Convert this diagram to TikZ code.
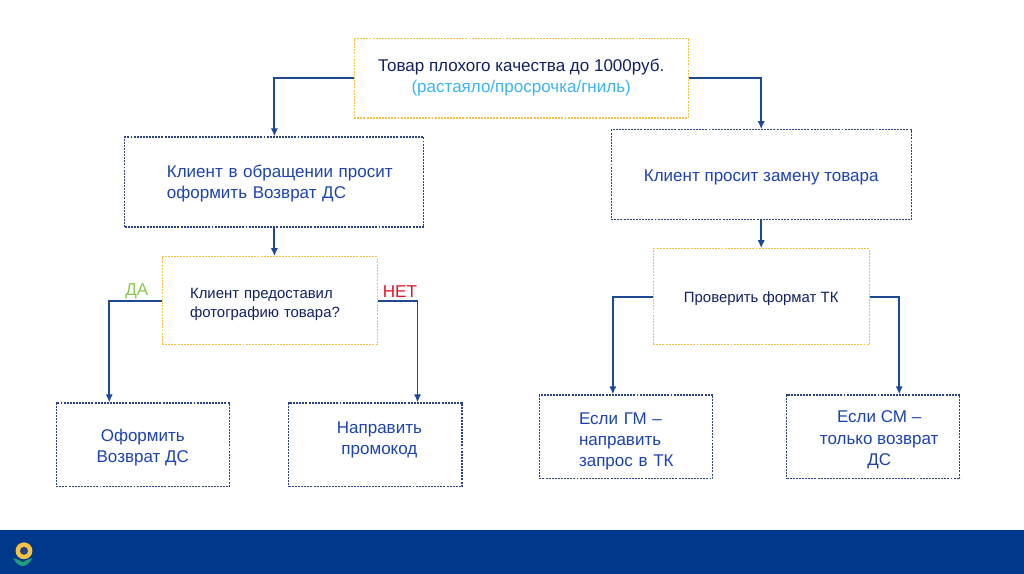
\documentclass[tikz,border=0pt]{standalone}
\usepackage{fontspec}
\setmainfont{Liberation Sans}
\usepackage{tikz}
\usetikzlibrary{arrows.meta,positioning,calc}
\usepackage{xcolor}
\definecolor{LineBlue}{RGB}{28,72,150}
\definecolor{BoxBlue}{RGB}{40,66,130}
\definecolor{TextNavy}{RGB}{16,32,96}
\definecolor{TextBlue}{RGB}{28,66,176}
\definecolor{SkyText}{RGB}{60,180,240}
\definecolor{DashYellow}{RGB}{245,194,66}
\definecolor{BarBlue}{RGB}{0,56,140}
\definecolor{YesGreen}{RGB}{140,200,80}
\definecolor{NoRed}{RGB}{225,20,35}
\definecolor{LeafGreen}{RGB}{30,160,120}

\begin{document}
\begin{tikzpicture}[
  box/.style={draw=BoxBlue,dash pattern=on 1.4pt off 0.8pt,line width=0.8pt,text=TextBlue,align=left,
              inner sep=0pt,font=\fontsize{12.1}{15}\selectfont},
  ybox/.style={box,draw=DashYellow,text=TextNavy},
  endbox/.style={box,minimum width=4.33cm,minimum height=2.09cm,align=center},
  arr/.style={-{Latex[length=2mm,width=1.8mm]},line width=1.3pt,LineBlue},
  tag/.style={font=\fontsize{12.2}{14}\selectfont},
]
\useasboundingbox (0,0) rectangle (25.6,14.35);
\fill[BarBlue] (0,0) rectangle (25.6,1.1);
\fill[LeafGreen] (0.33,0.40) .. controls (0.40,0.26) and (0.50,0.2) .. (0.57,0.2)
  .. controls (0.64,0.2) and (0.74,0.26) .. (0.81,0.40) .. controls (0.70,0.36) and (0.62,0.34) .. (0.57,0.29)
  .. controls (0.52,0.34) and (0.44,0.36) .. cycle;
\fill[DashYellow] (0.6,0.58) circle (0.21);
\fill[BoxBlue] (0.6,0.58) circle (0.1);

\node[ybox,minimum width=8.35cm,minimum height=1.98cm,align=center,text depth=0.12cm] (top) at (13.03,12.39)
  {Товар плохого качества до 1000руб.\\{\color{SkyText}(растаяло/просрочка/гниль)}};
\node[box,minimum width=7.475cm,minimum height=2.25cm,text width=5.375cm,text height=0.38cm] (refund) at (6.86,9.80)
  {\mbox{Клиент в обращении просит}\\оформить Возврат ДС};
\node[box,minimum width=7.5cm,minimum height=2.25cm,align=center,text height=0.4cm] (swap) at (19.03,9.98)
  {Клиент просит замену товара};
\node[ybox,minimum width=5.375cm,minimum height=2.2cm,text width=3.975cm,text height=0.42cm,
      font=\fontsize{10.6}{13.5}\selectfont] (photo) at (6.74,6.83)
  {Клиент предоставил\\фотографию товара?};
\node[ybox,minimum width=5.4cm,minimum height=2.4cm,align=center,text height=0.36cm,
      font=\fontsize{10.6}{13.5}\selectfont] (format) at (19.03,6.93)
  {Проверить формат ТК};
\node[endbox,text height=0.96cm] (issue) at (3.57,3.23) {Оформить\\Возврат ДС};
\node[endbox,text depth=0.35cm] (promo) at (9.385,3.23) {\hspace*{0.2cm}Направить\\\hspace*{0.2cm}промокод};
\node[endbox,text width=2.35cm,align=left,text height=0.51cm] (gm) at (15.65,3.43)
  {Если ГМ --\\направить\\\mbox{запрос в ТК}};
\node[endbox,text height=1.5cm] (cm) at (21.83,3.43)
  {\hspace*{0.3cm}Если СМ --\\\hspace*{0.3cm}только возврат\\\hspace*{0.3cm}ДС};
\coordinate (issuein) at ($(issue.north west)+(1.34,0)$);
\coordinate (promoin) at ($(promo.north east)+(-1.125,0)$);
\coordinate (gmin) at ($(gm.north west)+(1.85,0)$);
\coordinate (cmin) at ($(cm.north west)+(2.83,0)$);
\draw[arr] (top.west) -| (refund.north);
\draw[arr] (top.east) -| (swap.north);
\draw[arr] (refund.south) -- (refund.south |- photo.north);
\draw[arr] (swap.south) -- (format.north);
\draw[arr] (photo.west) -| (issuein);
\draw[arr] (photo.east) -| (promoin);
\draw[arr] (format.west) -| (gmin);
\draw[arr] (format.east) -| (cmin);
\node[tag,text=YesGreen] (yes) at (3.42,7.06) {ДА};
\node[tag,text=NoRed] (no) at (10.0,7.06) {НЕТ};
\end{tikzpicture}
\end{document}
